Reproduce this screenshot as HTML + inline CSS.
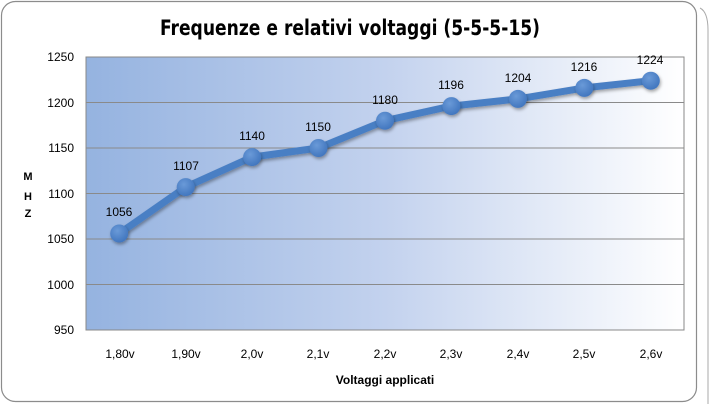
<!DOCTYPE html>
<html><head><meta charset="utf-8"><style>
html,body{margin:0;padding:0;background:#fff;}
svg{display:block;font-family:"Liberation Sans",sans-serif;}
</style></head><body>
<svg width="709" height="404" viewBox="0 0 709 404">
<defs>
<linearGradient id="bg" x1="0" y1="0" x2="1" y2="0">
<stop offset="0" stop-color="#95b3e0"/>
<stop offset="0.5" stop-color="#c3d2ee"/>
<stop offset="1" stop-color="#ffffff"/>
</linearGradient>
<radialGradient id="mk" cx="0.4" cy="0.35" r="0.7">
<stop offset="0" stop-color="#6a9ad8"/>
<stop offset="1" stop-color="#3f74bd"/>
</radialGradient>
<filter id="sh" x="-20%" y="-20%" width="140%" height="150%"><feDropShadow dx="1" dy="2" stdDeviation="1.5" flood-color="#000" flood-opacity="0.35"/></filter>
</defs>
<rect x="1.5" y="1.5" width="695" height="400" rx="14" fill="#fff" stroke="#8c8c8c" stroke-width="1.2"/>
<path d="M700 8 Q708 12 708 30 L708 404" fill="none" stroke="#aaa"/>
<text x="160" y="35" textLength="380" lengthAdjust="spacingAndGlyphs" font-size="21" font-weight="bold" fill="#000" style="font-family:'DejaVu Sans Condensed','Liberation Sans Narrow','Liberation Sans',sans-serif">Frequenze e relativi voltaggi (5-5-5-15)</text>
<rect x="86" y="57" width="598" height="273" fill="url(#bg)" stroke="#888"/>
<g stroke="#8a8a8a" stroke-width="1">
<line x1="86" x2="684" y1="102.5" y2="102.5"/>
<line x1="86" x2="684" y1="148" y2="148"/>
<line x1="86" x2="684" y1="193.5" y2="193.5"/>
<line x1="86" x2="684" y1="239" y2="239"/>
<line x1="86" x2="684" y1="284.5" y2="284.5"/>
</g>
<g font-size="12" fill="#000" text-anchor="end">
<text x="74" y="61">1250</text><text x="74" y="107">1200</text><text x="74" y="152">1150</text>
<text x="74" y="198">1100</text><text x="74" y="243">1050</text><text x="74" y="289">1000</text><text x="74" y="334">950</text>
</g>
<g font-size="11" font-weight="bold" text-anchor="middle"><text x="28" y="180">M</text><text x="28" y="200">H</text><text x="28" y="217">Z</text></g>
<g font-size="12" text-anchor="middle">
<text x="120" y="358">1,80v</text><text x="186" y="358">1,90v</text><text x="252" y="358">2,0v</text>
<text x="318" y="358">2,1v</text><text x="385" y="358">2,2v</text><text x="451" y="358">2,3v</text>
<text x="518" y="358">2,4v</text><text x="584" y="358">2,5v</text><text x="651" y="358">2,6v</text>
</g>
<text x="385" y="384" text-anchor="middle" font-size="12" font-weight="bold">Voltaggi applicati</text>
<polyline points="119.2,233.5 185.7,187.1 252.1,157.1 318.5,148 385,120.7 451.4,106.1 517.9,98.9 584.3,87.9 650.8,80.7" fill="none" stroke="#4a7fc4" stroke-width="7" stroke-linejoin="round" filter="url(#sh)"/>
<g fill="url(#mk)" filter="url(#sh)">
<circle cx="119.2" cy="233.5" r="9"/><circle cx="185.7" cy="187.1" r="9"/><circle cx="252.1" cy="157.1" r="9"/>
<circle cx="318.5" cy="148" r="9"/><circle cx="385" cy="120.7" r="9"/><circle cx="451.4" cy="106.1" r="9"/>
<circle cx="517.9" cy="98.9" r="9"/><circle cx="584.3" cy="87.9" r="9"/><circle cx="650.8" cy="80.7" r="9"/>
</g>
<g font-size="12" text-anchor="middle">
<text x="119" y="216">1056</text><text x="186" y="170">1107</text><text x="252" y="140">1140</text>
<text x="318" y="131">1150</text><text x="385" y="104">1180</text><text x="451" y="89">1196</text>
<text x="518" y="82">1204</text><text x="584" y="71">1216</text><text x="650" y="64">1224</text>
</g>
</svg>
</body></html>
